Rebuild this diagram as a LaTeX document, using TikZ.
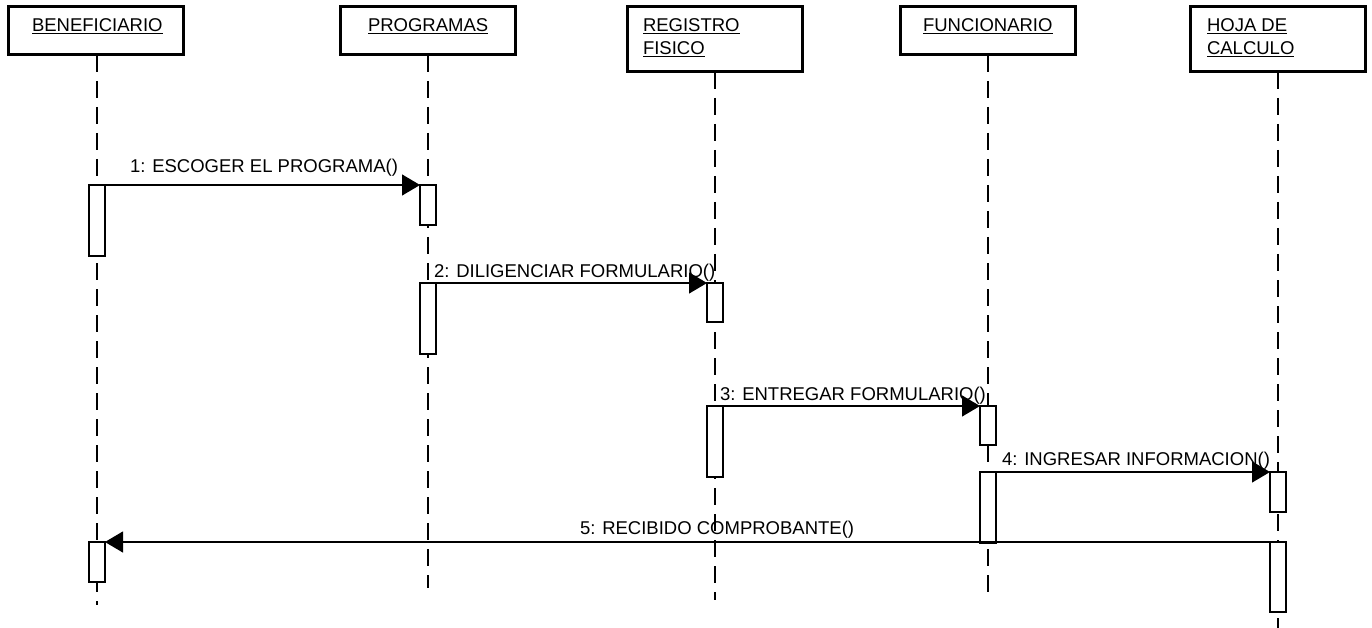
\documentclass[tikz,border=0pt]{standalone}
\usepackage{fontspec}
\setmainfont{Liberation Sans}
\usetikzlibrary{arrows.meta}
\begin{document}
\begin{tikzpicture}[x=1pt,y=-1pt,
  hdr/.style={draw,line width=3pt,inner sep=0pt,outer sep=0pt,anchor=north west},
  lbl/.style={inner sep=0pt,outer sep=0pt,anchor=base west,font=\fontsize{18.5}{21}\selectfont},
  act/.style={draw,fill=white,line width=1.2pt,minimum width=16pt,inner sep=0pt,outer sep=0pt,anchor=north},
  life/.style={line width=1.2pt,dash pattern=on 17pt off 9pt},
  msg/.style={line width=1.2pt,-{Triangle[length=18pt,width=21pt]}}]
\useasboundingbox (0,0) rectangle (1372,628);
% header boxes
\node[hdr,minimum width=175pt,minimum height=48pt] (ben) at (8,7) {};
\node[hdr,minimum width=175pt,minimum height=48pt] (pro) at (340,7) {};
\node[hdr,minimum width=175pt,minimum height=65pt] (reg) at (627,7) {};
\node[hdr,minimum width=175pt,minimum height=48pt] (fun) at (900,7) {};
\node[hdr,minimum width=175pt,minimum height=65pt] (hoj) at (1190,7) {};
% header texts
\node[lbl] (benT) at (32,32) {\underline{BENEFICIARIO}};
\node[lbl] (proT) at (368,32) {\underline{PROGRAMAS}};
\node[lbl] (regT1) at (643,32) {\underline{REGISTRO}};
\node[lbl] (regT2) at (643,55) {\underline{FISICO}};
\node[lbl] (funT) at (923,32) {\underline{FUNCIONARIO}};
\node[lbl] (hojT1) at (1207,32) {\underline{HOJA DE}};
\node[lbl] (hojT2) at (1207,55) {\underline{CALCULO}};
% lifeline ends
\coordinate (benE) at (97,605);
\coordinate (proE) at (428,588);
\coordinate (regE) at (715,600);
\coordinate (funE) at (988,598);
\coordinate (hojE) at (1278,628);
\draw[life] (ben.south -| benE) -- (benE);
\draw[life] (pro.south -| proE) -- (proE);
\draw[life] (reg.south -| regE) -- (regE);
\draw[life] (fun.south -| funE) -- (funE);
\draw[life] (hoj.south -| hojE) -- (hojE);
% activations
\node[act,minimum height=71pt] (ba1) at (97,185) {};
\node[act,minimum height=40pt] (ba2) at (97,542) {};
\node[act,minimum height=40pt] (pa1) at (428,185) {};
\node[act,minimum height=71pt] (pa2) at (428,283) {};
\node[act,minimum height=39pt] (ra1) at (715,283) {};
\node[act,minimum height=71pt] (ra2) at (715,406) {};
\node[act,minimum height=39pt] (fa1) at (988,406) {};
\node[act,minimum height=71pt] (fa2) at (988,472) {};
\node[act,minimum height=40pt] (ha1) at (1278,472) {};
\node[act,minimum height=70pt] (ha2) at (1278,542) {};
% messages
\draw[msg] (ba1.north east) -- (pa1.north west);
\draw[msg] (pa2.north east) -- (ra1.north west);
\draw[msg] (ra2.north east) -- (fa1.north west);
\draw[msg] (fa2.north east) -- (ha1.north west);
\draw[msg] (ha2.north west) -- (ba2.north east);
% message labels
\node[lbl] (m1) at (130,173) {1: ESCOGER EL PROGRAMA()};
\node[lbl] (m2) at (434,277) {2: DILIGENCIAR FORMULARIO()};
\node[lbl] (m3) at (720,400) {3: ENTREGAR FORMULARIO()};
\node[lbl] (m4) at (1002,465) {4: INGRESAR INFORMACION()};
\node[lbl] (m5) at (580,534) {5: RECIBIDO COMPROBANTE()};
\end{tikzpicture}
\end{document}
